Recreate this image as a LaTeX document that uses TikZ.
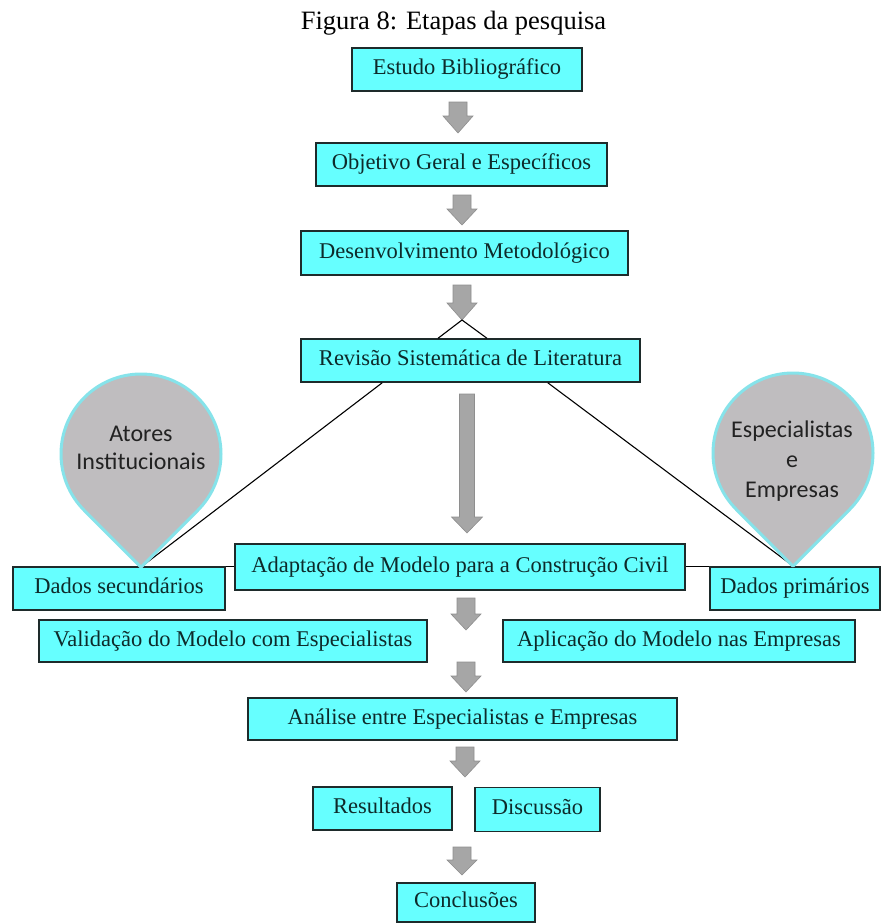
\documentclass[tikz,border=0pt]{standalone}
\usepackage{fontspec}
\setmainfont{Liberation Serif}
\newfontfamily\dropfont{Carlito}
\definecolor{boxcyan}{HTML}{66FFFF}
\definecolor{edgecol}{HTML}{1E2B2B}
\definecolor{txtcol}{HTML}{0E2A2A}
\definecolor{arrowgray}{HTML}{A6A6A6}
\definecolor{arrowedge}{HTML}{8E8E8E}
\definecolor{dropfill}{HTML}{BFBDBF}
\definecolor{dropedge}{HTML}{86E3EA}
\definecolor{droptxt}{HTML}{222222}
% block arrow: cx, ytop, ybot, shaft half width, head half width, head height
\newcommand\stagearrow[6]{%
  \fill[arrowgray, draw=arrowedge, line width=0.6pt]
    (#1-#4,#2) -- (#1+#4,#2) -- (#1+#4,#3-#6) -- (#1+#5,#3-#6) -- (#1,#3)
    -- (#1-#5,#3-#6) -- (#1-#4,#3-#6) -- cycle;}
% teardrop with square corner pointing down: cx, cy, r
\newcommand\teardropshape[3]{%
  \filldraw[fill=dropfill, draw=dropedge, line width=3pt, line join=round]
    (#1,#2+1.41421*#3) -- (#1+0.70711*#3,#2+0.70711*#3)
    arc[start angle=-45, end angle=225, radius=#3pt] -- cycle;}
\begin{document}
\begin{tikzpicture}[x=1pt,y=-1pt,
  stage/.style={draw=edgecol, fill=boxcyan, line width=1.4pt, inner sep=0pt,
    text=txtcol, font=\fontsize{22.5}{26}\selectfont, text height=15pt, text depth=5pt},
  link/.style={draw=black, line width=1.1pt},
  droplabel/.style={text=droptxt, align=center}
]
\fill[white] (0,0) rectangle (883,924);
\useasboundingbox (0,0) rectangle (883,924);

\node[anchor=base, font=\fontsize{26.5}{30}\selectfont] (title) at (453.5,29) {Figura 8: Etapas da pesquisa};

% arrows
\stagearrow{458}{102}{133}{9}{15}{17}
\stagearrow{462}{195}{225}{9}{15}{16}
\stagearrow{462}{285}{320}{9}{15}{17}
\stagearrow{467}{394}{533}{7.5}{15.5}{16}
\stagearrow{466}{598}{630}{9}{15}{16}
\stagearrow{466}{662}{692}{9}{15}{16}
\stagearrow{465}{747}{777}{9}{15}{16}
\stagearrow{462}{847}{875}{9}{15}{15}
\coordinate (a3tip) at (462,320);

% boxes
\node[stage, minimum width=230pt, minimum height=43pt] (est) at (467,69.5) {Estudo Bibliográfico};
\node[stage, minimum width=291pt, minimum height=43pt] (obj) at (461.5,164.5) {Objetivo Geral e Específicos};
\node[stage, minimum width=327pt, minimum height=44pt] (des) at (464.5,253) {Desenvolvimento Metodológico};
\node[stage, minimum width=339pt, minimum height=43pt] (rev) at (470.5,360.5) {Revisão Sistemática de Literatura};
\node[stage, minimum width=450pt, minimum height=46pt] (ada) at (460,567) {Adaptação de Modelo para a Construção Civil};
\node[stage, minimum width=212pt, minimum height=43pt] (dsec) at (119,588.5) {Dados secundários};
\node[stage, minimum width=170pt, minimum height=43pt] (dprim) at (795,588.5) {Dados primários};
\node[stage, minimum width=388pt, minimum height=42pt] (val) at (233,641) {Validação do Modelo com Especialistas};
\node[stage, minimum width=352pt, minimum height=42pt] (apl) at (679,641) {Aplicação do Modelo nas Empresas};
\node[stage, minimum width=429pt, minimum height=42pt] (ana) at (462.5,719) {Análise entre Especialistas e Empresas};
\node[stage, minimum width=139pt, minimum height=43pt] (res) at (382.5,808.5) {Resultados};
\node[stage, minimum width=125pt, minimum height=44pt] (dis) at (537.5,809.5) {Discussão};
\node[stage, minimum width=138pt, minimum height=39pt] (con) at (466,902.5) {Conclusões};

% small triangle above Revisão
\draw[link] ([xshift=-32.5pt]rev.north) -- (a3tip) -- ([xshift=16.5pt]rev.north);

% connectors to the data boxes
\coordinate (tipL) at (141,567);
\coordinate (tipR) at (793,566);
\draw[link] ([xshift=82pt]rev.south west) -- (tipL);
\draw[link] ([xshift=-93pt]rev.south east) -- (tipR);
\draw[link] (dsec.north east) -- (ada.west |- dsec.north);
\draw[link] (ada.east |- dprim.north) -- (dprim.north west);

% teardrops
\teardropshape{141}{454}{80}
\teardropshape{793}{453}{80}
\node[droplabel, font=\dropfont\fontsize{24}{28}\selectfont] (atores) at (141,448) {Atores\\Institucionais};
\node[droplabel, font=\dropfont\fontsize{24}{30}\selectfont] (espec) at (792,461) {Especialistas\\e\\Empresas};
\end{tikzpicture}
\end{document}
